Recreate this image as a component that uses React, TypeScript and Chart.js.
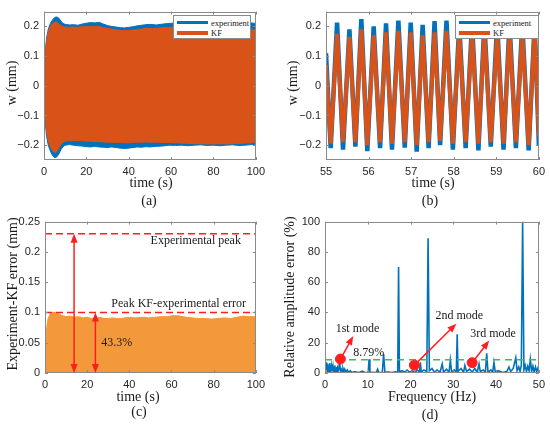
import React, { useEffect, useRef } from 'react';
import { Chart, registerables } from 'chart.js';

Chart.register(...registerables);

// (a) envelope of the whole 100 s record
const envTime = [0, 0.3, 0.7, 1.2, 2, 3, 4, 5, 6, 7, 8, 9, 10, 12, 14, 16, 18, 20, 22, 24, 26, 28, 30, 32, 34, 36, 38, 40, 42, 44, 46, 48, 50, 53, 56, 59, 62, 65, 68, 71, 74, 77, 80, 83, 86, 89, 92, 95, 98, 100];
const expUpper = [0, 0.07, 0.12, 0.16, 0.19, 0.21, 0.222, 0.23, 0.232, 0.228, 0.218, 0.21, 0.207, 0.205, 0.206, 0.204, 0.208, 0.211, 0.213, 0.212, 0.214, 0.208, 0.203, 0.2, 0.198, 0.196, 0.195, 0.197, 0.199, 0.202, 0.204, 0.206, 0.207, 0.205, 0.208, 0.21, 0.212, 0.209, 0.21, 0.208, 0.211, 0.21, 0.212, 0.209, 0.21, 0.211, 0.209, 0.21, 0.212, 0.21];
const expLower = [0, -0.07, -0.13, -0.17, -0.2, -0.22, -0.235, -0.242, -0.24, -0.23, -0.215, -0.205, -0.2, -0.198, -0.2, -0.202, -0.203, -0.205, -0.206, -0.204, -0.206, -0.207, -0.208, -0.206, -0.208, -0.21, -0.211, -0.21, -0.208, -0.206, -0.207, -0.205, -0.206, -0.204, -0.203, -0.2, -0.201, -0.2, -0.202, -0.2, -0.199, -0.201, -0.2, -0.202, -0.2, -0.199, -0.201, -0.2, -0.198, -0.197];
const kfUpper = [0, 0.06, 0.11, 0.15, 0.18, 0.2, 0.21, 0.215, 0.214, 0.208, 0.203, 0.2, 0.198, 0.197, 0.198, 0.197, 0.199, 0.199, 0.2, 0.199, 0.2, 0.196, 0.194, 0.191, 0.189, 0.187, 0.186, 0.187, 0.188, 0.19, 0.191, 0.193, 0.193, 0.194, 0.196, 0.197, 0.197, 0.196, 0.195, 0.194, 0.193, 0.192, 0.191, 0.191, 0.19, 0.191, 0.19, 0.19, 0.189, 0.188];
const kfLower = [0, -0.06, -0.11, -0.155, -0.185, -0.205, -0.218, -0.225, -0.222, -0.21, -0.198, -0.19, -0.186, -0.185, -0.185, -0.184, -0.185, -0.186, -0.187, -0.188, -0.188, -0.189, -0.19, -0.19, -0.191, -0.191, -0.192, -0.192, -0.191, -0.19, -0.19, -0.189, -0.19, -0.19, -0.191, -0.191, -0.192, -0.193, -0.194, -0.195, -0.195, -0.196, -0.196, -0.195, -0.196, -0.195, -0.194, -0.193, -0.192, -0.191];

// (b) zoom 55-60 s: turning points of the signal
const zoomTime = [55, 55.11, 55.26, 55.4, 55.55, 55.69, 55.83, 55.97, 56.12, 56.27, 56.41, 56.55, 56.7, 56.85, 56.99, 57.13, 57.27, 57.41, 57.55, 57.68, 57.83, 57.98, 58.13, 58.28, 58.43, 58.58, 58.72, 58.87, 59.02, 59.17, 59.31, 59.46, 59.61, 59.76, 59.9, 60];
const zoomExp = [0.11, -0.21, 0.213, -0.215, 0.19, -0.205, 0.225, -0.22, 0.2, -0.21, 0.21, -0.215, 0.22, -0.208, 0.213, -0.222, 0.205, -0.21, 0.218, -0.2, 0.22, -0.215, 0.208, -0.21, 0.213, -0.218, 0.213, -0.205, 0.21, -0.215, 0.213, -0.21, 0.21, -0.218, 0.21, -0.2];
const zoomKf = [0.07, -0.195, 0.175, -0.19, 0.165, -0.19, 0.19, -0.2, 0.17, -0.19, 0.18, -0.195, 0.185, -0.19, 0.18, -0.2, 0.17, -0.19, 0.18, -0.185, 0.185, -0.195, 0.175, -0.19, 0.18, -0.195, 0.18, -0.19, 0.175, -0.195, 0.18, -0.19, 0.175, -0.2, 0.19, -0.17];

// (c) error envelope
const errTime = [0, 0.3, 0.8, 1.5, 2.5, 3.5, 5, 6.5, 8, 10, 12, 14, 16, 18, 20, 22, 24, 26, 28, 30, 32, 34, 36, 38, 40, 43, 46, 49, 52, 55, 58, 61, 64, 67, 70, 73, 76, 79, 82, 85, 88, 91, 94, 97, 100];
const errTop = [0, 0.05, 0.075, 0.09, 0.098, 0.1, 0.1, 0.098, 0.095, 0.093, 0.094, 0.092, 0.093, 0.091, 0.092, 0.09, 0.091, 0.092, 0.09, 0.09, 0.091, 0.09, 0.09, 0.091, 0.092, 0.091, 0.092, 0.091, 0.092, 0.093, 0.093, 0.095, 0.094, 0.092, 0.091, 0.09, 0.09, 0.089, 0.09, 0.091, 0.09, 0.092, 0.094, 0.093, 0.093];
const peakLevels = [0.23, 0.1];
const arrowTimes = [13.8, 23.9];
const cNotes = ['Experimental peak', 'Peak KF-experimental error', '43.3%'];
const cNoteX = [71.5, 63.4, 34];
const cNoteY = [0.218, 0.115, 0.049];

// (d) relative amplitude error spectrum
const specFreq = [0, 0.1, 0.2, 0.3, 0.4, 0.5, 0.6, 0.7, 0.8, 0.9, 1, 1.1, 1.2, 1.3, 1.4, 1.5, 1.6, 1.7, 1.8, 1.9, 2, 2.1, 2.2, 2.3, 2.4, 2.5, 2.6, 2.7, 2.8, 2.9, 3, 3.2, 3.4, 3.6, 3.8, 4, 4.2, 4.4, 4.6, 4.9, 5.2, 5.5, 5.9, 6.3, 7, 8, 8.7, 9.3, 10.1, 10.3, 10.5, 11.2, 12, 12.3, 12.6, 13.4, 13.7, 14, 14.8, 15.6, 16.5, 17, 17.2, 17.4, 18, 18.6, 19.2, 19.8, 20.4, 21, 21.6, 22.1, 22.3, 22.5, 23.1, 23.8, 24.1, 24.4, 25, 25.6, 26.2, 26.9, 27.4, 27.7, 28.4, 29, 29.3, 29.6, 30.2, 30.7, 30.9, 31.1, 31.8, 32.4, 32.7, 33.1, 33.8, 34.4, 35, 35.6, 36, 36.3, 37, 37.5, 37.8, 38.1, 38.8, 39.2, 39.5, 39.8, 40.5, 41.5, 42.5, 43, 43.4, 44, 44.6, 44.9, 45.3, 45.6, 45.9, 46.2, 46.5, 46.8, 47.1, 47.4, 47.7, 48, 48.3, 48.6, 48.9, 49.2, 49.5, 49.8, 50];
const specAmp = [3, 6, 1, 7, 2, 5, 0.5, 6, 2, 4, 1, 6.5, 1.5, 5, 0.5, 4.5, 2, 5.5, 1, 4, 0.5, 3.5, 1, 5, 1.5, 3, 0.5, 4, 1, 3, 1, 2, 8, 1.5, 2.5, 0.5, 3, 1, 2.5, 0.5, 2, 0.5, 1.5, 0.5, 0.8, 0.3, 1.2, 0.3, 0.3, 9, 0.3, 0.5, 0.3, 2.5, 0.3, 0.5, 12.5, 0.4, 0.6, 0.3, 0.8, 0.4, 70, 0.8, 1.5, 0.5, 2, 0.5, 1.5, 0.3, 2, 0.5, 7, 0.5, 2, 1, 89, 1.5, 3, 0.5, 2, 0.5, 6, 0.5, 2.5, 0.5, 8.5, 0.5, 2, 0.5, 25.5, 1, 3, 0.5, 5, 1, 2.5, 0.5, 3, 0.5, 6, 1, 2, 0.5, 13, 0.5, 2, 0.5, 7, 0.5, 1.5, 0.3, 1, 4, 1, 3, 10, 1.5, 4, 1, 5, 100, 2, 5, 1, 4.5, 1.5, 9, 1, 4.5, 0.5, 4, 1, 3.5, 1];
const thresholdLevel = 8.79;
const modeFreq = [3.6, 20.9, 34.4];
const modeAmp = [9.2, 5.2, 6.8];
const modeArrowX = [6.6, 30.7, 38.4];
const modeArrowY = [24.4, 32.6, 21.4];
const dNotes = ['1st mode', '2nd mode', '3rd mode', '8.79%'];
const dNoteX = [7.6, 31.4, 39.3, 10.2];
const dNoteY = [28.9, 37.5, 25.8, 13.3];

// tick values
const timeTicks = [0, 20, 40, 60, 80, 100];
const zoomTicks = [55, 56, 57, 58, 59, 60];
const wTicks = [-0.2, -0.1, 0, 0.1, 0.2];
const errTicks = [0, 0.05, 0.1, 0.15, 0.2, 0.25];
const freqTicks = [0, 10, 20, 30, 40, 50];
const pctTicks = [0, 20, 40, 60, 80, 100];

const legendLabels = ['experiment', 'KF'];

const BLUE = '#0072BD';
const ORANGE = '#D95319';
const ERR_ORANGE = '#F4993B';
const RED = '#FF1E1E';
const GREEN = '#33BF63';
const SERIF = '"Liberation Serif", "Times New Roman", serif';
const TICK_FONT = { family: '"Liberation Sans", Arial, sans-serif', size: 11 };

const xy = (xs: number[], ys: number[]) => xs.map((x, i) => ({ x, y: ys[i] }));
const fmt = (v: number) => (v < 0 ? '\u2212' + String(-v) : String(v));

function axis(min: number, max: number, ticks: number[], size: number, horizontal: boolean) {
  return {
    type: 'linear',
    min,
    max,
    grid: { display: false, drawTicks: false },
    border: { display: false },
    ticks: {
      padding: 5,
      font: TICK_FONT,
      color: '#262626',
      autoSkip: false,
      maxRotation: 0,
      callback: (v: any) => fmt(Number(v)),
    },
    afterBuildTicks: (s: any) => {
      s.ticks = ticks.map((value) => ({ value }));
    },
    afterFit: (s: any) => {
      if (horizontal) s.height = size;
      else s.width = size;
    },
  };
}

// matlab style box with inward ticks
const boxPlugin = {
  id: 'box',
  afterDatasetsDraw(chart: any) {
    const { ctx, chartArea: a, scales } = chart;
    ctx.save();
    ctx.strokeStyle = '#8a8a8a';
    ctx.lineWidth = 1;
    ctx.strokeRect(Math.round(a.left) + 0.5, Math.round(a.top) + 0.5, Math.round(a.right - a.left) - 1, Math.round(a.bottom - a.top) - 1);
    ctx.beginPath();
    scales.x.ticks.forEach((t: any) => {
      const px = Math.round(scales.x.getPixelForValue(t.value)) + 0.5;
      ctx.moveTo(px, a.bottom);
      ctx.lineTo(px, a.bottom - 3);
      ctx.moveTo(px, a.top);
      ctx.lineTo(px, a.top + 3);
    });
    scales.y.ticks.forEach((t: any) => {
      const py = Math.round(scales.y.getPixelForValue(t.value)) + 0.5;
      ctx.moveTo(a.left, py);
      ctx.lineTo(a.left + 3, py);
      ctx.moveTo(a.right, py);
      ctx.lineTo(a.right - 3, py);
    });
    ctx.stroke();
    ctx.restore();
  },
};

function arrowHead(ctx: CanvasRenderingContext2D, x1: number, y1: number, x2: number, y2: number) {
  const ang = Math.atan2(y2 - y1, x2 - x1);
  const len = 9;
  const w = 3.5;
  ctx.beginPath();
  ctx.moveTo(x2, y2);
  ctx.lineTo(x2 - len * Math.cos(ang) + w * Math.sin(ang), y2 - len * Math.sin(ang) - w * Math.cos(ang));
  ctx.lineTo(x2 - len * Math.cos(ang) - w * Math.sin(ang), y2 - len * Math.sin(ang) + w * Math.cos(ang));
  ctx.closePath();
  ctx.fill();
}

function arrow(ctx: CanvasRenderingContext2D, x1: number, y1: number, x2: number, y2: number, both: boolean) {
  const d = Math.hypot(x2 - x1, y2 - y1);
  const ux = (x2 - x1) / d;
  const uy = (y2 - y1) / d;
  ctx.beginPath();
  ctx.moveTo(both ? x1 + ux * 8 : x1, both ? y1 + uy * 8 : y1);
  ctx.lineTo(x2 - ux * 8, y2 - uy * 8);
  ctx.stroke();
  arrowHead(ctx, x1, y1, x2, y2);
  if (both) arrowHead(ctx, x2, y2, x1, y1);
}

function notes(ctx: CanvasRenderingContext2D, x: any, y: any, texts: string[], xs: number[], ys: number[]) {
  ctx.font = `12px ${SERIF}`;
  ctx.fillStyle = '#1a1a1a';
  ctx.textAlign = 'center';
  ctx.textBaseline = 'middle';
  texts.forEach((t, i) => ctx.fillText(t, x.getPixelForValue(xs[i]), y.getPixelForValue(ys[i])));
}

const cOverlay = {
  id: 'cOverlay',
  afterDatasetsDraw(chart: any) {
    const { ctx, scales: { x, y } } = chart;
    ctx.save();
    ctx.strokeStyle = RED;
    ctx.fillStyle = RED;
    ctx.lineWidth = 1.5;
    arrowTimes.forEach((t, i) => {
      const px = x.getPixelForValue(t);
      arrow(ctx, px, y.getPixelForValue(peakLevels[i]), px, y.getPixelForValue(0), true);
    });
    notes(ctx, x, y, cNotes, cNoteX, cNoteY);
    ctx.restore();
  },
};

const dOverlay = {
  id: 'dOverlay',
  afterDatasetsDraw(chart: any) {
    const { ctx, scales: { x, y } } = chart;
    ctx.save();
    ctx.strokeStyle = RED;
    ctx.fillStyle = RED;
    ctx.lineWidth = 1.5;
    modeFreq.forEach((f, i) => {
      arrow(ctx, x.getPixelForValue(f), y.getPixelForValue(modeAmp[i]), x.getPixelForValue(modeArrowX[i]), y.getPixelForValue(modeArrowY[i]), false);
    });
    notes(ctx, x, y, dNotes, dNoteX, dNoteY);
    ctx.restore();
  },
};

function baseOptions(x: any, y: any, padding: any) {
  return {
    responsive: false,
    animation: false,
    events: [],
    layout: { padding },
    plugins: { legend: { display: false }, tooltip: { enabled: false } },
    elements: { point: { radius: 0 }, line: { tension: 0 } },
    scales: { x, y },
  };
}

const makeA = () => ({
  type: 'line',
  data: {
    datasets: [
      { data: xy(envTime, kfUpper), borderColor: ORANGE, backgroundColor: ORANGE, borderWidth: 1, fill: '+1' },
      { data: xy(envTime, kfLower), borderColor: ORANGE, borderWidth: 1, fill: false },
      { data: xy(envTime, expUpper), borderColor: BLUE, backgroundColor: BLUE, borderWidth: 1, fill: '+1' },
      { data: xy(envTime, expLower), borderColor: BLUE, borderWidth: 1, fill: false },
    ],
  },
  options: baseOptions(axis(0, 100, timeTicks, 30, true), axis(-0.25, 0.25, wTicks, 44, false), { left: 0, right: 11, top: 7, bottom: 0 }),
  plugins: [boxPlugin],
});

const makeB = () => ({
  type: 'line',
  data: {
    datasets: [
      { data: xy(zoomTime, zoomKf), borderColor: ORANGE, borderWidth: 4, fill: false },
      { data: xy(zoomTime, zoomExp), borderColor: BLUE, borderWidth: 4.5, fill: false },
    ],
  },
  options: baseOptions(axis(55, 60, zoomTicks, 30, true), axis(-0.25, 0.25, wTicks, 51, false), { left: 0, right: 10, top: 7, bottom: 0 }),
  plugins: [boxPlugin],
});

const makeC = () => ({
  type: 'line',
  data: {
    datasets: [
      { data: xy([0, 100], [peakLevels[0], peakLevels[0]]), borderColor: RED, borderWidth: 1.5, borderDash: [7, 4], fill: false },
      { data: xy([0, 100], [peakLevels[1], peakLevels[1]]), borderColor: RED, borderWidth: 1.5, borderDash: [7, 4], fill: false },
      { data: xy(errTime, errTop), borderColor: ERR_ORANGE, backgroundColor: ERR_ORANGE, borderWidth: 1, fill: 'origin' },
    ],
  },
  options: baseOptions(axis(0, 100, timeTicks, 27, true), axis(0, 0.25, errTicks, 45, false), { left: 0, right: 11, top: 10, bottom: 0 }),
  plugins: [boxPlugin, cOverlay],
});

const makeD = () => ({
  type: 'line',
  data: {
    datasets: [
      { data: xy(modeFreq, modeAmp), showLine: false, pointRadius: 5, pointBackgroundColor: RED, pointBorderColor: RED, borderColor: RED },
      { data: xy([0, 50], [thresholdLevel, thresholdLevel]), borderColor: GREEN, borderWidth: 1.6, borderDash: [7, 5], fill: false },
      { data: xy(specFreq, specAmp), borderColor: BLUE, borderWidth: 1.6, fill: false },
    ],
  },
  options: baseOptions(axis(0, 50, freqTicks, 27, true), axis(0, 100, pctTicks, 50, false), { left: 0, right: 10, top: 10, bottom: 0 }),
  plugins: [boxPlugin, dOverlay],
});

function ChartCanvas({ make, left, top, width, height }: { make: () => any; left: number; top: number; width: number; height: number }) {
  const ref = useRef<HTMLCanvasElement | null>(null);
  useEffect(() => {
    if (!ref.current) return;
    const chart = new Chart(ref.current, make());
    return () => chart.destroy();
  }, []);
  return <canvas ref={ref} width={width} height={height} style={{ position: 'absolute', left, top, width, height }} />;
}

function Text({ text, x, y, size = 14, rotate = false }: { text: string; x: number; y: number; size?: number; rotate?: boolean }) {
  return (
    <div
      style={{
        position: 'absolute',
        left: x,
        top: y,
        transform: `translate(-50%, -50%)${rotate ? ' rotate(-90deg)' : ''}`,
        fontFamily: SERIF,
        fontSize: size,
        color: '#1a1a1a',
        whiteSpace: 'nowrap',
        lineHeight: 1,
      }}
    >
      {text}
    </div>
  );
}

function Legend({ left, top, width }: { left: number; top: number; width: number }) {
  const colors = [BLUE, ORANGE];
  return (
    <div style={{ position: 'absolute', left, top, width, height: 24, border: '1px solid #8a8a8a', background: '#fff', boxSizing: 'border-box' }}>
      {legendLabels.map((lab, i) => (
        <div key={lab} style={{ position: 'absolute', left: 3, top: 1.5 + i * 10.7, height: 10, display: 'flex', alignItems: 'center' }}>
          <span style={{ display: 'inline-block', width: 31, height: 3.5, background: colors[i], marginRight: 3 }} />
          <span style={{ fontFamily: SERIF, fontSize: 8.5, color: '#1a1a1a', lineHeight: '10px' }}>{lab}</span>
        </div>
      ))}
    </div>
  );
}

export default function App() {
  return (
    <div style={{ position: 'absolute', left: 0, top: 0, width: 550, height: 427, background: '#fff', overflow: 'hidden' }}>
      <ChartCanvas make={makeA} left={0} top={0} width={270} height={190} />
      <ChartCanvas make={makeB} left={275} top={0} width={275} height={190} />
      <ChartCanvas make={makeC} left={0} top={210} width={270} height={190} />
      <ChartCanvas make={makeD} left={275} top={210} width={275} height={190} />

      <Legend left={173} top={15} width={78} />
      <Legend left={455} top={15} width={84} />

      <Text text="w (mm)" x={12} y={83} rotate />
      <Text text="time (s)" x={151} y={183} />
      <Text text="(a)" x={149} y={201} />

      <Text text="w (mm)" x={293} y={83} rotate />
      <Text text="time (s)" x={433} y={183} />
      <Text text="(b)" x={430} y={201} />

      <Text text="Experiment-KF error (mm)" x={13} y={294} rotate />
      <Text text="time (s)" x={138} y={397} />
      <Text text="(c)" x={139} y={412} />

      <Text text="Relative amplitude error (%)" x={290} y={297} rotate />
      <Text text="Frequency (Hz)" x={432} y={397} />
      <Text text="(d)" x={430} y={415} />
    </div>
  );
}
